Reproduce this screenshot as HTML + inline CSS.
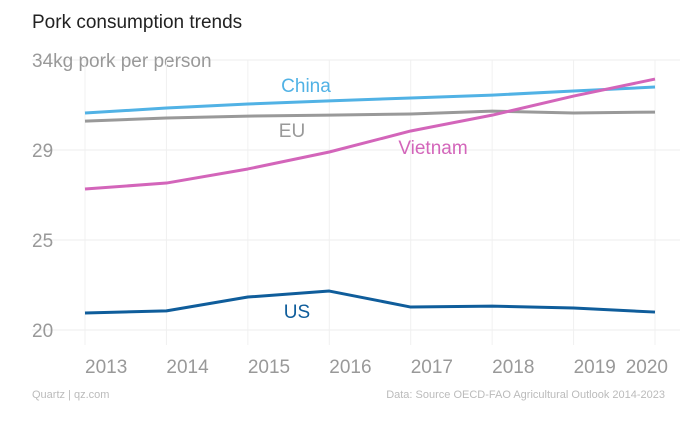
<!DOCTYPE html>
<html><head><meta charset="utf-8"><style>
body{margin:0;background:#fff;font-family:"Liberation Sans",sans-serif;}
svg{display:block}
</style></head><body>
<svg width="680" height="427" xmlns="http://www.w3.org/2000/svg">
<rect width="680" height="427" fill="#fff"/>
<text x="32" y="28" font-size="19" fill="#222">Pork consumption trends</text>
<g id="grid"></g>
<g id="series"></g>
<text x="32" y="398" font-size="11" fill="#bbb">Quartz | qz.com</text>
<text x="665" y="398" font-size="11" fill="#bbb" text-anchor="end">Data: Source OECD-FAO Agricultural Outlook 2014-2023</text>
</svg>
<script>
const years=[2013,2014,2015,2016,2017,2018,2019,2020];
const yTicks=[20,24.667,29.333,34];
const yTickLabels=["20","25","29","34kg pork per person"];
const china=[31.25,31.51,31.72,31.88,32.03,32.18,32.39,32.6];
const eu=[30.83,30.99,31.09,31.14,31.2,31.35,31.25,31.3];
const vietnam=[27.31,27.62,28.35,29.23,30.32,31.14,32.13,33.01];
const us=[20.88,20.99,21.71,22.02,21.19,21.24,21.14,20.93];
const NS="http://www.w3.org/2000/svg";
const x=i=>85+(655-85)*(years[i]-years[0])/(years[years.length-1]-years[0]);
const y=v=>330-(v-20)*270/14;
const grid=document.getElementById('grid'),ser=document.getElementById('series');
function mk(t,a,p){const e=document.createElementNS(NS,t);for(const k in a)e.setAttribute(k,a[k]);p.appendChild(e);return e;}
yTicks.forEach((t,i)=>{
 const l=mk('line',{x1:32,x2:680,y1:y(t),y2:y(t),stroke:'#ececec','stroke-width':1},grid);
 
 
 const tx=mk('text',{x:32,y:y(t)+7,'font-size':19,fill:'#999'},grid);
 tx.textContent=yTickLabels[i];
 
 
});
years.forEach((yr,i)=>{
 const l=mk('line',{x1:x(i),x2:x(i),y1:60,y2:345,stroke:'#f0f0f0','stroke-width':1},grid);
 
 
 const last=i===years.length-1;
 const tx=mk('text',{x:last?x(i)+13:x(i),y:373,'font-size':19,fill:'#999','text-anchor':last?'end':'start'},grid);
 tx.textContent=yr;
 
 
});
const defs=[[eu,'#999','EU',292,137,'eu'],[china,'#51b2e5','China',306,92,'china'],[vietnam,'#d365ba','Vietnam',433,154,'vietnam'],[us,'#0f5d9b','US',297,318,'us']];
defs.forEach(([d,c,lab,lx,ly,n])=>{
 const p=mk('polyline',{points:d.map((v,i)=>x(i)+','+y(v)).join(' '),fill:'none',stroke:c,'stroke-width':3,'stroke-linejoin':'round'},ser);
 
 
 const t=mk('text',{x:lx,y:ly,'font-size':19,fill:c,'text-anchor':'middle'},ser);
 t.textContent=lab;
 
 
});
</script>
</body></html>
